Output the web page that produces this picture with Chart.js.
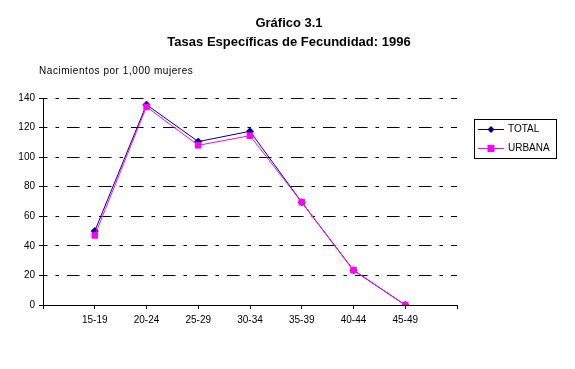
<!DOCTYPE html>
<html>
<head>
<meta charset="utf-8">
<script src="https://cdn.jsdelivr.net/npm/chart.js@4"></script>
<style>
  html, body { margin: 0; padding: 0; background: #fff; }
</style>
</head>
<body>
<canvas id="grafico" width="575" height="369"></canvas>
<script>
// Datos
const gruposEdad = ['15-19', '20-24', '25-29', '30-34', '35-39', '40-44', '45-49'];
const tasasTotal = [50, 135.5, 110.5, 117.5, 69.5, 23.5, 0];
const tasasUrbana = [47, 134, 108, 114.5, 69.5, 23.5, 0];
const ticksY = [0, 20, 40, 60, 80, 100, 120, 140];

const titulo = ['Gráfico 3.1', 'Tasas Específicas de Fecundidad: 1996'];
const unidad = 'Nacimientos por 1,000 mujeres';

const FUENTE = "'Liberation Sans', Arial, sans-serif";

// Puntos en posiciones 1..7 de un eje 0..8
function puntos(valores) {
    return gruposEdad.map((g, i) => ({ x: i + 1, y: valores[i] }));
}

// Títulos, unidad y leyenda dibujados a mano
const textosPlugin = {
    id: 'textos',
    afterDraw(chart) {
        const ctx = chart.ctx;
        ctx.save();
        ctx.fillStyle = '#000';
        ctx.textBaseline = 'middle';
        ctx.textAlign = 'center';
        ctx.font = 'bold 13px ' + FUENTE;
        ctx.fillText(titulo[0], 289, 23);
        ctx.fillText(titulo[1], 289, 42);

        ctx.textAlign = 'left';
        ctx.font = '10px ' + FUENTE;
        ctx.letterSpacing = '0.55px';
        ctx.fillText(unidad, 39, 71);
        ctx.letterSpacing = '0px';

        // Leyenda
        ctx.strokeStyle = '#000';
        ctx.lineWidth = 1;
        ctx.strokeRect(474.5, 119.5, 82, 39);
        chart.data.datasets.forEach((ds, i) => {
            const y = 129.5 + i * 19;
            ctx.strokeStyle = ds.borderColor;
            ctx.beginPath();
            ctx.moveTo(478, y);
            ctx.lineTo(504, y);
            ctx.stroke();
            ctx.fillStyle = ds.backgroundColor;
            if (ds.pointStyle === 'rect') {
                ctx.fillRect(487.5, y - 3.5, 7, 7);
            } else {
                ctx.beginPath();
                ctx.moveTo(491, y - 3.5);
                ctx.lineTo(494.5, y);
                ctx.lineTo(491, y + 3.5);
                ctx.lineTo(487.5, y);
                ctx.closePath();
                ctx.fill();
            }
            ctx.fillStyle = '#000';
            ctx.fillText(ds.label, 508, y);
        });
        ctx.restore();
    }
};

new Chart(document.getElementById('grafico'), {
    type: 'line',
    data: {
        datasets: [
            {
                label: 'TOTAL',
                data: puntos(tasasTotal),
                borderColor: '#000080',
                backgroundColor: '#000080',
                borderWidth: 1,
                pointStyle: 'rectRot',
                pointRadius: 3.5,
                pointBorderWidth: 1,
                tension: 0,
                order: 1
            },
            {
                label: 'URBANA',
                data: puntos(tasasUrbana),
                borderColor: '#FF00FF',
                backgroundColor: '#FF00FF',
                borderWidth: 1,
                pointStyle: 'rect',
                pointRadius: 4.6,
                pointBorderWidth: 0,
                tension: 0,
                order: 0
            }
        ]
    },
    options: {
        responsive: false,
        animation: false,
        devicePixelRatio: 1,
        layout: { padding: { left: 0, top: 98, right: 118, bottom: 0 } },
        plugins: {
            legend: { display: false },
            tooltip: { enabled: false }
        },
        scales: {
            x: {
                type: 'linear',
                min: 0,
                max: 8,
                afterFit(scale) { scale.height = 64; },
                afterBuildTicks(scale) {
                    scale.ticks = [0, 1, 2, 3, 4, 5, 6, 7, 8].map(v => ({ value: v }));
                },
                ticks: {
                    autoSkip: false,
                    maxRotation: 0,
                    padding: 5,
                    color: '#000',
                    font: { family: FUENTE, size: 10 },
                    callback: v => gruposEdad[v - 1] || ''
                },
                grid: {
                    drawOnChartArea: false,
                    color: '#000',
                    tickLength: 4
                },
                border: { color: '#000', width: 1 }
            },
            y: {
                min: 0,
                max: 140,
                afterFit(scale) { scale.width = 43; },
                afterBuildTicks(scale) {
                    scale.ticks = ticksY.map(v => ({ value: v }));
                },
                ticks: {
                    padding: 4,
                    color: '#000',
                    font: { family: FUENTE, size: 10 }
                },
                grid: {
                    color: '#000',
                    tickLength: 4
                },
                border: {
                    color: '#000',
                    width: 1,
                    dash: [12.5, 8, 3.5, 8],
                    dashOffset: 9
                }
            }
        }
    },
    plugins: [textosPlugin]
});
</script>
</body>
</html>
